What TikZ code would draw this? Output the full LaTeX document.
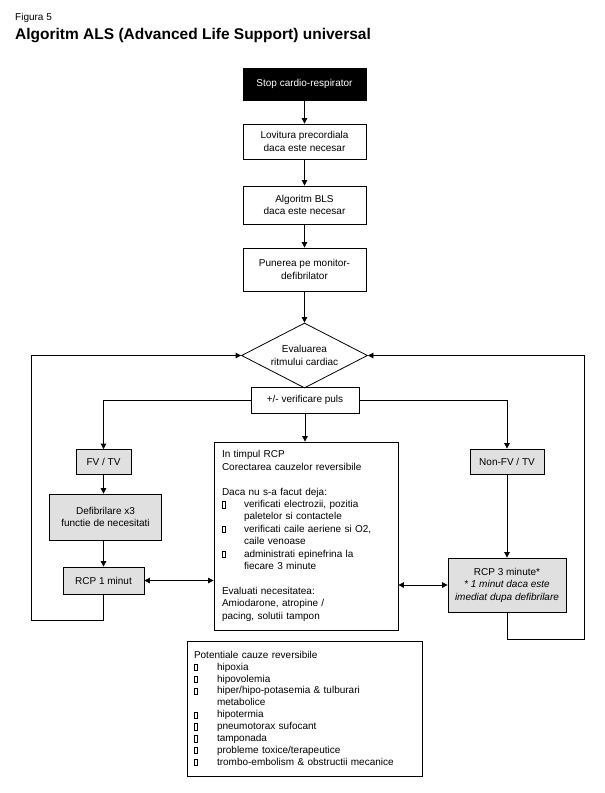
\documentclass[tikz,border=0pt]{standalone}
\usepackage{fontspec}
\setmainfont{Liberation Sans}
\usetikzlibrary{arrows.meta,shapes.geometric}
\definecolor{boxgray}{RGB}{224,224,224}
\newcommand\bx{{\setlength\fboxsep{0pt}\setlength\fboxrule{0.7pt}\fbox{\rule{0pt}{5.5pt}\rule{2.6pt}{0pt}}}}
\newcommand\itm{\makebox[22pt][l]{\bx}}
\newcommand\ind{\hspace*{22pt}}
\newcommand\itmb{\makebox[23pt][l]{\bx}}
\newcommand\indb{\hspace*{23pt}}
\begin{document}
\begin{tikzpicture}[x=1pt,y=-1pt,
  box/.style={draw,line width=0.8pt,inner sep=0pt,align=center,font=\fontsize{10}{12.5}\selectfont},
  gbox/.style={box,fill=boxgray},
  arr/.style={-{Triangle[length=5.5pt,width=5.5pt]},line width=0.8pt},
  dbl/.style={{Triangle[length=5.5pt,width=5.5pt]}-{Triangle[length=5.5pt,width=5.5pt]},line width=0.8pt}]
\useasboundingbox (0,0) rectangle (605,793);
\fill[white] (0,0) rectangle (605,793);
% titles
\node[anchor=base west,inner sep=0pt,font=\fontsize{10}{12}\selectfont] (fig) at (15,20.7) {Figura 5};
\node[anchor=base west,inner sep=0pt,font=\fontsize{15.5}{18}\selectfont\bfseries] (title) at (15,39) {Algoritm ALS (Advanced Life Support) universal};
% main column
\node[box,fill=black,text=white,minimum width=123pt,minimum height=32pt] (stop) at (304.5,84) {Stop cardio-respirator};
\node[box,minimum width=123pt,minimum height=35pt] (lov) at (304.5,141.5) {Lovitura precordiala\\daca este necesar};
\node[box,minimum width=123pt,minimum height=38pt] (bls) at (304.5,205) {Algoritm BLS\\daca este necesar};
\node[box,minimum width=123pt,minimum height=43pt] (pun) at (304.5,269.5) {Punerea pe monitor-\\defibrilator};
\node[draw,diamond,shape aspect=2,inner sep=0pt,minimum width=126pt,minimum height=65pt,line width=0.8pt,align=center,font=\fontsize{10}{12.5}\selectfont] (eval) at (304.5,355.5) {Evaluarea\\ritmului cardiac};
\node[box,minimum width=108pt,minimum height=26pt] (puls) at (305,400) {+/- verificare puls};
% left column
\node[gbox,minimum width=55pt,minimum height=25pt] (fv) at (103.5,462) {FV / TV};
\node[gbox,minimum width=112pt,minimum height=46pt] (def) at (105.5,517) {Defibrilare x3\\functie de necesitati};
\node[gbox,minimum width=81pt,minimum height=27pt] (rcp1) at (103.5,580.5) {RCP 1 minut};
% right column
\node[gbox,minimum width=74pt,minimum height=25pt] (nfv) at (507,461.5) {Non-FV / TV};
\node[gbox,minimum width=118pt,minimum height=54pt] (rcp3) at (507,585) {RCP 3 minute*\\\textit{* 1 minut daca este}\\\textit{imediat dupa defibrilare}};
% middle box
\node[box,minimum width=184pt,minimum height=188pt,text width=168pt,align=left,font=\fontsize{10}{12.4}\selectfont] (mid) at (306,536) {In timpul RCP\\
Corectarea cauzelor reversibile\\[12.4pt]
Daca nu s-a facut deja:\\
\itm verificati electrozii, pozitia\\
\ind paletelor si contactele\\
\itm verificati caile aeriene si O2,\\
\ind caile venoase\\
\itm administrati epinefrina la\\
\ind fiecare 3 minute\\[12.4pt]
Evaluati necesitatea:\\
Amiodarone, atropine /\\
pacing, solutii tampon};
% bottom box
\node[box,minimum width=235pt,minimum height=135pt,text width=221pt,align=left,font=\fontsize{10}{11.9}\selectfont] (cauze) at (304.5,708.5) {Potentiale cauze reversibile\\
\itmb hipoxia\\
\itmb hipovolemia\\
\itmb hiper/hipo-potasemia \& tulburari\\
\indb metabolice\\
\itmb hipotermia\\
\itmb pneumotorax sufocant\\
\itmb tamponada\\
\itmb probleme toxice/terapeutice\\
\itmb trombo-embolism \& obstructii mecanice};
% connectors
\draw[arr] (stop) -- (lov);
\draw[arr] (lov) -- (bls);
\draw[arr] (bls) -- (pun);
\draw[arr] (pun) -- (eval);
\draw[arr] (puls.west) -| (fv.north);
\draw[arr] (puls.east) -| (nfv.north);
\draw[arr] (puls.south) -- (puls.south |- mid.north);
\draw[arr] (fv.south) -- (fv.south |- def.north);
\draw[arr] (fv.south |- def.south) -- (rcp1.north);
\draw[arr] (nfv.south) -- (rcp3.north);
\draw[dbl] (rcp1.east) -- (rcp1.east -| mid.west);
\draw[dbl] (rcp3.west -| mid.east) -- (rcp3.west);
\coordinate (lb) at (31,620);
\coordinate (rb) at (584,639);
\draw[arr] (rcp1.south) |- (lb) |- (eval.west);
\draw[arr] (rcp3.south) |- (rb) |- (eval.east);
\end{tikzpicture}
\end{document}
